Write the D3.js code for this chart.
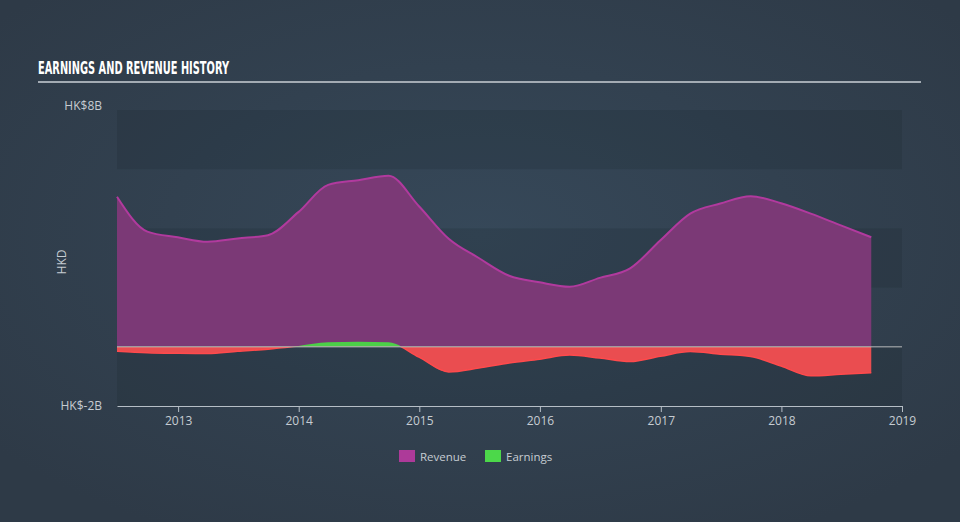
<!DOCTYPE html>
<html><head><meta charset="utf-8">
<script src="https://cdn.jsdelivr.net/npm/d3@7"></script>
<style>body{margin:0;background:#323f4e;}svg{display:block;}</style>
</head><body>
<svg id="c" width="960" height="522"></svg>
<script>
const dates = ["2012-06-30","2012-09-30","2012-12-31","2013-03-31","2013-06-30","2013-09-30","2013-12-31","2014-03-31","2014-06-30","2014-09-30","2014-12-31","2015-03-31","2015-06-30","2015-09-30","2015-12-31","2016-03-31","2016-06-30","2016-09-30","2016-12-31","2017-03-31","2017-06-30","2017-09-30","2017-12-31","2018-03-31","2018-06-30","2018-09-30"];
const revenue = [5.07,3.89,3.70,3.55,3.66,3.77,4.55,5.47,5.63,5.78,4.75,3.65,3.00,2.40,2.18,2.03,2.33,2.65,3.60,4.50,4.84,5.09,4.85,4.50,4.10,3.70];
const earnings = [-0.15,-0.20,-0.22,-0.23,-0.15,-0.08,0.03,0.15,0.17,0.15,-0.35,-0.85,-0.72,-0.55,-0.42,-0.28,-0.38,-0.50,-0.32,-0.16,-0.25,-0.33,-0.65,-0.98,-0.93,-0.88];
const yTickLabels = ["HK$8B","HK$-2B"];
const yTickValues = [8,-2];
const xTickYears = [2013,2014,2015,2016,2017,2018,2019];

const svg = d3.select("#c");
const W = 960, H = 522;
const defs = svg.append("defs");
const rg = defs.append("radialGradient").attr("id","bg").attr("cx","50%").attr("cy","45%").attr("r","65%");
rg.append("stop").attr("offset","0%").attr("stop-color","#364859");
rg.append("stop").attr("offset","100%").attr("stop-color","#2e3a47");
svg.append("rect").attr("width",W).attr("height",H).attr("fill","url(#bg)");

const parse = d3.timeParse("%Y-%m-%d");
const data = dates.map((d,i)=>({date:parse(d),rev:revenue[i],earn:earnings[i]}));

const x = d3.scaleTime().domain([parse("2012-06-30"), new Date(2019,0,1)]).range([117,902]);
const y = d3.scaleLinear().domain([-2,8]).range([406,110]);

// bands
const bands = [[8,6],[4,2],[0,-2]];
svg.append("g").selectAll("rect").data(bands).join("rect")
  .attr("x",117).attr("width",902-117)
  .attr("y",d=>y(d[0])).attr("height",d=>y(d[1])-y(d[0]))
  .attr("fill","rgba(20,30,40,0.16)");

// title
svg.append("text").attr("x",38).attr("y",74).text("EARNINGS AND REVENUE HISTORY")
  .attr("fill","#ffffff").attr("font-family","'DejaVu Sans Condensed','Liberation Sans Narrow',sans-serif")
  .attr("font-weight","bold").attr("font-size",18)
  .attr("textLength",191).attr("lengthAdjust","spacingAndGlyphs");
svg.append("line").attr("x1",38).attr("x2",921).attr("y1",82).attr("y2",82)
  .attr("stroke","#a3abb3").attr("stroke-width",2);

// y labels
svg.append("g").selectAll("text").data(yTickValues).join("text")
  .attr("x",102).attr("y",d=>d===8?110:410)
  .attr("text-anchor","end").attr("fill","#c6ccd2")
  .attr("font-family","'Open Sans',sans-serif").attr("font-size",12)
  .text((d,i)=>yTickLabels[i]);
svg.append("text").attr("transform","translate(66,262) rotate(-90)")
  .attr("text-anchor","middle").attr("fill","#c6ccd2")
  .attr("font-family","'Open Sans',sans-serif").attr("font-size",12).text("HKD");

// revenue
const areaRev = d3.area().x(d=>x(d.date)).y0(y(0)).y1(d=>y(d.rev)).curve(d3.curveMonotoneX);
const lineRev = d3.line().x(d=>x(d.date)).y(d=>y(d.rev)).curve(d3.curveMonotoneX);
svg.append("path").datum(data).attr("d",areaRev).attr("fill","#7b3976");
svg.append("path").datum(data).attr("d",lineRev).attr("fill","none").attr("stroke","#b13a9e").attr("stroke-width",2);

// earnings
defs.append("clipPath").attr("id","above").append("rect").attr("x",0).attr("y",0).attr("width",W).attr("height",y(0));
defs.append("clipPath").attr("id","below").append("rect").attr("x",0).attr("y",y(0)).attr("width",W).attr("height",H-y(0));
const areaE = d3.area().x(d=>x(d.date)).y0(y(0)).y1(d=>y(d.earn)).curve(d3.curveMonotoneX);
const lineE = d3.line().x(d=>x(d.date)).y(d=>y(d.earn)).curve(d3.curveMonotoneX);
svg.append("path").datum(data).attr("d",areaE).attr("fill","#ea4d50").attr("clip-path","url(#below)");
svg.append("path").datum(data).attr("d",lineE).attr("fill","none").attr("stroke","#ff4a4c").attr("stroke-width",1.5).attr("clip-path","url(#below)");
svg.append("path").datum(data).attr("d",areaE).attr("fill","#4ccf48").attr("clip-path","url(#above)");

// zero line
svg.append("line").attr("x1",117).attr("x2",902).attr("y1",y(0)).attr("y2",y(0))
  .attr("stroke","#c8c8c8").attr("stroke-opacity",0.6).attr("stroke-width",1.5);

// x axis
const xa = svg.append("g").attr("transform",`translate(0,${y(-2)})`)
  .call(d3.axisBottom(x).tickValues(xTickYears.map(yr=>new Date(yr,0,1))).tickFormat(d3.timeFormat("%Y")).tickSize(6).tickSizeOuter(0));
xa.select(".domain").attr("stroke","#b6bec6");
xa.selectAll(".tick line").attr("stroke","#b6bec6");
xa.selectAll(".tick text").attr("fill","#c6ccd2").attr("font-family","'Open Sans',sans-serif").attr("font-size",12).attr("dy","0.85em");

// legend
const legend = [{name:"Revenue",color:"#ad3a99",x:399},{name:"Earnings",color:"#4cd84a",x:485}];
const lg = svg.append("g").selectAll("g").data(legend).join("g").attr("transform",d=>`translate(${d.x},450)`);
lg.append("rect").attr("width",16).attr("height",12).attr("fill",d=>d.color);
lg.append("text").attr("x",21).attr("y",10.5).attr("fill","#c6ccd2")
  .attr("font-family","'Open Sans',sans-serif").attr("font-size",11.5).text(d=>d.name);
</script>
</body></html>
